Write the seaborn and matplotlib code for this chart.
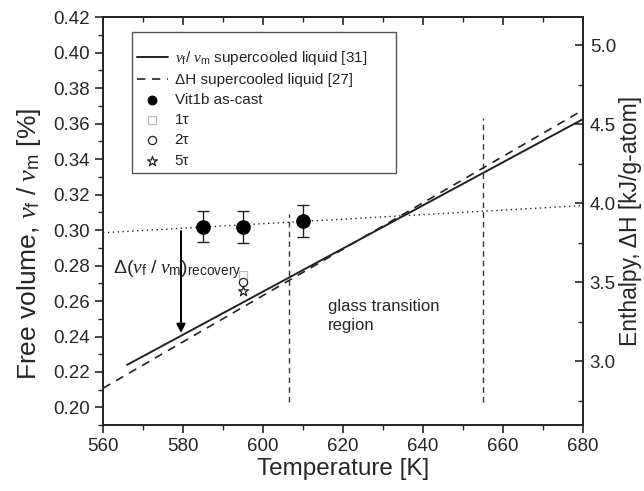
import numpy as np
import pandas as pd
import matplotlib
matplotlib.use('Agg')
import matplotlib.pyplot as plt
import seaborn as sns
from matplotlib.ticker import MultipleLocator
from matplotlib.patches import Rectangle

# values
T_liq = [566, 680]
vf_liq = [0.224, 0.3625]          # v_f/v_m supercooled liquid [31]
T_dH = [560, 680]
dH_liq = [2.83, 4.589]            # dH supercooled liquid [27] (right axis)
T_glass = [560, 680]
vf_glass = [0.2985, 0.3138]       # dotted glass line

T_cast = [585, 595, 610]
vf_cast = [0.302, 0.3015, 0.305]
err_cast = [0.009, 0.009, 0.009]

T_ann = [595, 595, 595]
vf_ann = [0.2746, 0.2705, 0.2656]
ann_labels = ['1\u03c4', '2\u03c4', '5\u03c4']

T_tg = [606.5, 655]
tg_top = [0.309, 0.363]
tg_bottom = 0.203

T_arrow = 579.5

sns.set_theme(style='ticks')
plt.rcParams['font.family'] = ['Liberation Sans', 'DejaVu Sans']
plt.rcParams['mathtext.fontset'] = 'custom'
plt.rcParams['mathtext.rm'] = 'Liberation Sans'
plt.rcParams['mathtext.it'] = 'Liberation Serif:italic'
plt.rcParams['mathtext.bf'] = 'Liberation Sans:bold'

fig = plt.figure(figsize=(6.44, 4.91), dpi=100)
ax = fig.add_axes([0.160, 0.134, 0.745, 0.831])
ax2 = ax.twinx()

# lines
sns.lineplot(x=T_liq, y=vf_liq, ax=ax, color='#222222', lw=1.4,
             label=r'$\nu_\mathrm{f}$/ $\nu_\mathrm{m}$ supercooled liquid [31]', legend=False)
sns.lineplot(x=T_dH, y=dH_liq, ax=ax2, color='#222222', lw=1.2, linestyle=(0, (5, 4)),
             label='\u0394H supercooled liquid [27]', legend=False)
sns.lineplot(x=T_glass, y=vf_glass, ax=ax, color='#222222', lw=1.0, linestyle=(0, (1, 2.5)),
             legend=False)

# glass transition region
for t, top in zip(T_tg, tg_top):
    ax.plot([t, t], [tg_bottom, top], color='#333333', lw=1.0, linestyle=(0, (4, 3)))

# data points
ax.errorbar(T_cast, vf_cast, yerr=err_cast, fmt='none', ecolor='#222222',
            elinewidth=1.0, capsize=4, capthick=1.0)
sns.scatterplot(x=T_cast, y=vf_cast, ax=ax, color='black', s=95, marker='o',
                edgecolor='black', label='Vit1b as-cast', zorder=5, legend=False)
ann_style = [dict(marker='s', facecolor='white', edgecolor='#bbbbbb', s=30),
             dict(marker='o', facecolor='white', edgecolor='#222222', s=35),
             dict(marker='*', facecolor='white', edgecolor='#222222', s=55)]
for t, v, lab, st in zip(T_ann, vf_ann, ann_labels, ann_style):
    ax.scatter([t], [v], marker=st['marker'], facecolor=st['facecolor'],
               edgecolor=st['edgecolor'], s=st['s'], linewidth=0.9, label=lab, zorder=5)

# recovery arrow
slope = (vf_liq[1] - vf_liq[0]) / (T_liq[1] - T_liq[0])
ax.annotate('', xy=(T_arrow, vf_liq[0] + slope * (T_arrow - T_liq[0])),
            xytext=(T_arrow, vf_glass[0] + (vf_glass[1] - vf_glass[0]) / 120 * (T_arrow - 560)),
            arrowprops=dict(arrowstyle='-|>', color='black', lw=1.4, mutation_scale=13))
ax.text(562.5, 0.2755, r'$\Delta(\nu_\mathrm{f}\ /\ \nu_\mathrm{m})_\mathrm{recovery}$',
        fontsize=14, ha='left', va='baseline')
ax.text(616.3, 0.2515, 'glass transition\nregion', fontsize=12, ha='left', va='center',
        linespacing=1.35)

# axes
ax.set_xlim(560, 680)
ax.set_ylim(0.19, 0.42)
ax2.set_ylim(2.596, 5.177)
ax.xaxis.set_major_locator(MultipleLocator(20))
ax.xaxis.set_minor_locator(MultipleLocator(10))
ax.yaxis.set_major_locator(MultipleLocator(0.02))
ax.yaxis.set_minor_locator(MultipleLocator(0.01))
ax2.yaxis.set_major_locator(MultipleLocator(0.5))
ax2.yaxis.set_minor_locator(MultipleLocator(0.25))
ax.yaxis.set_major_formatter(plt.FormatStrFormatter('%.2f'))
ax2.yaxis.set_major_formatter(plt.FormatStrFormatter('%.1f'))

ax.tick_params(axis='both', which='both', direction='out', top=False, right=False, labelsize=13.5)
ax.tick_params(axis='both', which='major', length=6, width=1.2)
ax.tick_params(axis='both', which='minor', length=3.5, width=1.0)
ax2.tick_params(axis='y', which='both', direction='in', labelsize=13.5, pad=5)
ax2.tick_params(axis='y', which='major', length=6, width=1.2)
ax2.tick_params(axis='y', which='minor', length=3.5, width=1.0)

sec = ax.secondary_xaxis('top')
sec.xaxis.set_major_locator(MultipleLocator(20))
sec.xaxis.set_minor_locator(MultipleLocator(10))
sec.tick_params(axis='x', which='both', direction='in', labeltop=False)
sec.tick_params(axis='x', which='major', length=6, width=1.2)
sec.tick_params(axis='x', which='minor', length=3.5, width=1.0)

for a in (ax, ax2, sec):
    for s in a.spines.values():
        s.set_linewidth(1.2)
        s.set_color('#222222')

ax.set_xlabel('Temperature [K]', fontsize=17.5, labelpad=2)
ax.set_ylabel(r'Free volume, $\nu_\mathrm{f}\ /\ \nu_\mathrm{m}$ [%]', fontsize=19)
ax.yaxis.set_label_coords(-0.125, 0.444)
ax2.set_ylabel('Enthalpy, \u0394H [kJ/g-atom]', fontsize=16.5, labelpad=2)

# legend with both axes' handles
h1, l1 = ax.get_legend_handles_labels()
h2, l2 = ax2.get_legend_handles_labels()
handles = [h1[0], h2[0]] + h1[1:]
labels = [l1[0], l2[0]] + l1[1:]
leg = ax2.legend(handles, labels, loc='upper left', bbox_to_anchor=(0.071, 0.922),
                 fontsize=11, frameon=False, handlelength=2.0, handletextpad=0.45,
                 labelspacing=0.4, borderpad=0, borderaxespad=0)
leg.legend_handles[2].set_sizes([40])
ax2.add_patch(Rectangle((0.0604, 0.618), 0.55, 0.345, transform=ax2.transAxes,
                        fill=False, edgecolor='#555555', lw=1.0, zorder=6))

fig.savefig('out.png', dpi=100)
